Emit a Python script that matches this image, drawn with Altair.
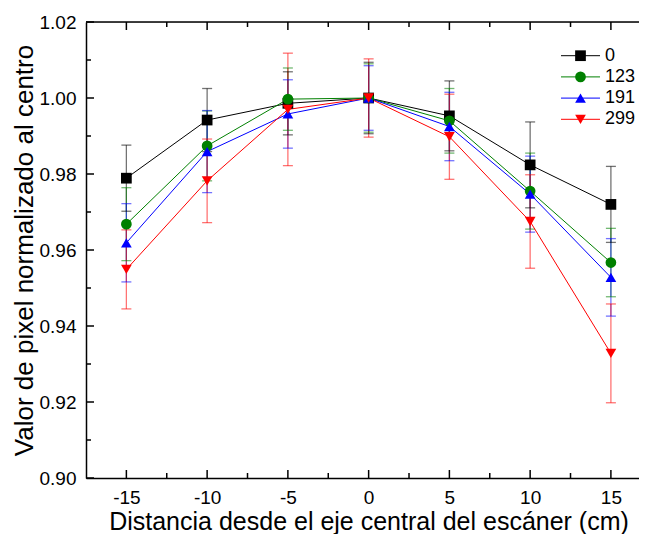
import altair as alt
import pandas as pd

# ---------------- data ----------------
x_vals = [-15, -10, -5, 0, 5, 10, 15]
series = ["0", "123", "191", "299"]
colors = ["#000000", "#008000", "#0000FF", "#FF0000"]
shapes = ["square", "circle", "triangle-up", "triangle-down"]

y_0 = [0.9789, 0.9942, 0.9986, 1.0000, 0.9953, 0.9824, 0.9720]
e_0 = [0.0087, 0.0083, 0.0083, 0.0094, 0.0092, 0.0113, 0.0100]
y_123 = [0.9668, 0.9874, 0.9997, 1.0000, 0.9940, 0.9755, 0.9567]
e_123 = [0.0096, 0.0092, 0.0082, 0.0090, 0.0085, 0.0100, 0.0090]
y_191 = [0.9619, 0.9859, 0.9958, 1.0000, 0.9925, 0.9747, 0.9528]
e_191 = [0.0103, 0.0108, 0.0090, 0.0085, 0.0090, 0.0100, 0.0102]
y_299 = [0.9549, 0.9782, 0.9970, 1.0000, 0.9898, 0.9675, 0.9328]
e_299 = [0.0104, 0.0110, 0.0148, 0.0103, 0.0112, 0.0123, 0.0130]

x_ticks_major = [-15, -10, -5, 0, 5, 10, 15]
x_ticks_minor = [-12.5, -7.5, -2.5, 2.5, 7.5, 12.5]
y_ticks_major = [0.90, 0.92, 0.94, 0.96, 0.98, 1.00, 1.02]
y_ticks_minor = [0.91, 0.93, 0.95, 0.97, 0.99, 1.01]

x_title = "Distancia desde el eje central del escáner (cm)"
y_title = "Valor de pixel normalizado al centro"

# ---------------- tables ----------------
rows = []
for name, ys, es in zip(series, [y_0, y_123, y_191, y_299], [e_0, e_123, e_191, e_299]):
    for xv, yv, ev in zip(x_vals, ys, es):
        rows.append({"series": name, "x": xv, "y": yv, "lo": yv - ev, "hi": yv + ev})
df = pd.DataFrame(rows)

# plot area: the frame runs to x=+17.5, just past the right edge of the window
W, H = 553, 456
FONT = "Liberation Sans"

xscale = alt.Scale(domain=[-17.5, 16.74], nice=False, zero=False)
yscale = alt.Scale(domain=[0.90, 1.02], nice=False, zero=False)
color = alt.Color("series:N", scale=alt.Scale(domain=series, range=colors), legend=None)
shape = alt.Shape("series:N", scale=alt.Scale(domain=series, range=shapes), legend=None)

x_axis = alt.Axis(
    values=x_vals, ticks=False, tickSize=0, domain=True, domainColor="black", domainWidth=1.5,
    labelExpr="datum.value < 0 ? '-' + abs(datum.value) : '' + datum.value",
    labelFontSize=19, labelPadding=10, labelColor="black", labelFont=FONT,
    title=x_title, titleFontSize=25, titleFont=FONT, titleFontWeight="normal",
    titleColor="black", titleBaseline="alphabetic", titleX=282.5, titleY=51, grid=False,
)
y_axis = alt.Axis(
    values=y_ticks_major, format=".2f", ticks=False, tickSize=0, domain=True, domainColor="black",
    domainWidth=1.5, labelFontSize=19, labelPadding=10, labelColor="black", labelFont=FONT,
    title=y_title, titleFontSize=26, titleFont=FONT, titleFontWeight="normal",
    titleColor="black", titlePadding=2, grid=False,
)


def XQ(field):
    return alt.X(field, type="quantitative", scale=xscale, axis=x_axis)


def YQ(field):
    return alt.Y(field, type="quantitative", scale=yscale, axis=y_axis)


base = alt.Chart(df)
err = base.mark_rule(strokeWidth=1.3, opacity=0.55).encode(
    x=XQ("x"), y=YQ("lo"), y2="hi:Q", color=color
)
cap_lo = base.mark_tick(orient="horizontal", size=10, thickness=1.3, opacity=0.55).encode(
    x=XQ("x"), y=YQ("lo"), color=color
)
cap_hi = base.mark_tick(orient="horizontal", size=10, thickness=1.3, opacity=0.55).encode(
    x=XQ("x"), y=YQ("hi"), color=color
)
lines = base.mark_line(strokeWidth=1).encode(x=XQ("x"), y=YQ("y"), color=color, detail="series:N")
points = base.mark_point(filled=True, size=115, opacity=1).encode(
    x=XQ("x"), y=YQ("y"), color=color, shape=shape
)


# inward ticks on the frame
def xticks(vals, y0, y1):
    return alt.Chart(pd.DataFrame({"x": vals})).mark_rule(color="black", strokeWidth=1.5).encode(
        x=XQ("x"), y=alt.value(y0), y2=alt.value(y1)
    )


def yticks(vals, x0, x1):
    return alt.Chart(pd.DataFrame({"y": vals})).mark_rule(color="black", strokeWidth=1.5).encode(
        y=YQ("y"), x=alt.value(x0), x2=alt.value(x1)
    )


top_line = alt.Chart(pd.DataFrame({"a": [0]})).mark_rule(color="black", strokeWidth=1.5).encode(
    x=alt.value(0), x2=alt.value(W), y=alt.value(0)
)

tick_layers = [
    xticks(x_ticks_major, H, H - 8), xticks(x_ticks_minor, H, H - 5),
    xticks(x_ticks_major, 0, 8), xticks(x_ticks_minor, 0, 5),
    yticks(y_ticks_major, 0, 8), yticks(y_ticks_minor, 0, 5),
]

main = alt.layer(err, cap_lo, cap_hi, lines, points, top_line, *tick_layers)

# legend (inside plot, top right)
leg = pd.DataFrame({"series": series})
ly = alt.Y("series:N", scale=alt.Scale(type="point", domain=series, range=[33.7, 97.3], padding=0), axis=None)
leg_line = alt.Chart(leg).mark_rule(strokeWidth=1).encode(
    x=alt.value(475), x2=alt.value(514), y=ly, color=color
)
leg_pt = alt.Chart(leg).mark_point(filled=True, size=115, opacity=1).encode(
    x=alt.value(494.5), y=ly, color=color, shape=shape
)
leg_txt = alt.Chart(leg).mark_text(align="left", baseline="middle", fontSize=18, font=FONT, color="black").encode(
    x=alt.value(519), y=ly, text="series:N"
)
legend = alt.layer(leg_line, leg_pt, leg_txt)

chart = (
    alt.layer(main, legend)
    .resolve_scale(y="independent")
    .properties(
        width=W, height=H,
        autosize=alt.AutoSizeParams(type="none"),
        padding={"left": 78, "top": 14, "right": 0, "bottom": 56},
        background="white",
    )
    .configure_view(stroke="transparent")
    .configure(font=FONT)
)

chart.save("out.html", embed_options={"renderer": "svg", "actions": False})
